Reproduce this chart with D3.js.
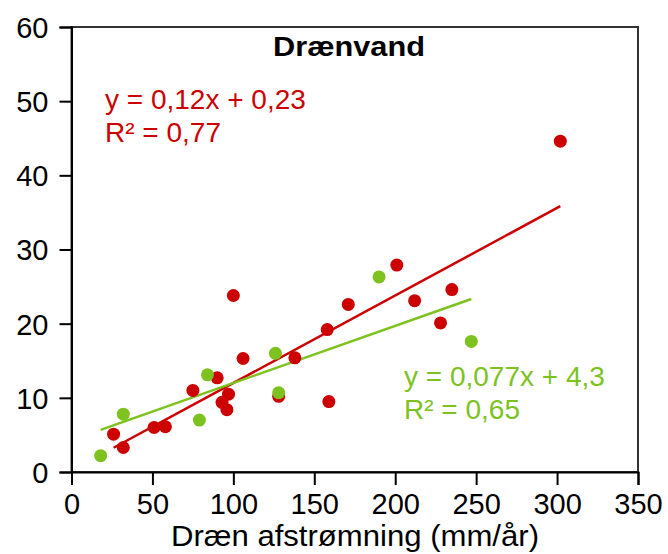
<!DOCTYPE html>
<html lang="da">
<head>
<meta charset="UTF-8">
<title>Drænvand</title>
<script src="https://d3js.org/d3.v7.min.js"></script>
<style>
  body { margin: 0; background: #fff; }
  svg { display: block; font-family: "Liberation Sans", Arial, sans-serif; }
  .tick text { font-size: 29px; fill: #000; }
</style>
</head>
<body>
<svg id="chart" width="668" height="554"></svg>
<script>
// red series (x = drain runoff mm/yr, y = value)
var redX = [26, 32, 51, 58, 75, 90, 93, 97, 96, 100, 106, 128, 138, 158, 159, 171, 201, 212, 228, 235, 302];
var redY = [5.1, 3.3, 6.0, 6.1, 11.0, 12.7, 9.4, 10.5, 8.4, 23.8, 15.3, 10.2, 15.4, 19.2, 9.5, 22.6, 27.9, 23.1, 20.1, 24.6, 44.6];
// green series
var greenX = [18, 32, 79, 84, 126, 128, 190, 247];
var greenY = [2.2, 7.8, 7.0, 13.1, 16.0, 10.7, 26.3, 17.6];

// trend lines: [slope, intercept]
var redTrend = [0.118, 0.2];
var greenTrend = [0.077, 4.3];

var redLabel = ["y = 0,12x + 0,23", "R² = 0,77"];
var greenLabel = ["y = 0,077x + 4,3", "R² = 0,65"];

var xTicks = [0, 50, 100, 150, 200, 250, 300, 350];
var yTicks = [0, 10, 20, 30, 40, 50, 60];

var red = "#cc0000", green = "#7dc21e";

var svg = d3.select("#chart");
var x = d3.scaleLinear().domain([0, 350]).range([71.5, 638]);
var y = d3.scaleLinear().domain([0, 60]).range([472, 27]);

// frame
svg.append("rect")
  .attr("x", x(0)).attr("y", y(60))
  .attr("width", x(350) - x(0)).attr("height", y(0) - y(60))
  .attr("fill", "none").attr("stroke", "#333").attr("stroke-width", 2);

var xAxis = svg.append("g")
  .attr("transform", "translate(0," + y(0) + ")")
  .call(d3.axisBottom(x).tickValues(xTicks).tickSize(13).tickPadding(8));
var yAxis = svg.append("g")
  .attr("transform", "translate(" + x(0) + ",0)")
  .call(d3.axisLeft(y).tickValues(yTicks).tickSize(12).tickPadding(11));
[xAxis, yAxis].forEach(function(a){
  a.select(".domain").attr("stroke", "#000").attr("stroke-width", 2);
  a.selectAll(".tick line").attr("stroke", "#000").attr("stroke-width", 2);
  a.selectAll(".tick text").attr("font-family", null).attr("font-size", null);
});
yAxis.selectAll(".tick text").attr("dy", "0.36em");

// trend lines
function trend(xs, coef, color) {
  var ext = d3.extent(xs);
  svg.append("line")
    .attr("x1", x(ext[0])).attr("y1", y(coef[0] * ext[0] + coef[1]))
    .attr("x2", x(ext[1])).attr("y2", y(coef[0] * ext[1] + coef[1]))
    .attr("stroke", color).attr("stroke-width", 2.5);
}
trend(redX, redTrend, red);
trend(greenX, greenTrend, green);

function dots(xs, ys, color) {
  svg.append("g").selectAll("circle").data(xs).enter().append("circle")
    .attr("cx", function(d){ return x(d); })
    .attr("cy", function(d, i){ return y(ys[i]); })
    .attr("r", 6.5)
    .attr("fill", color);
}
dots(redX, redY, red);
dots(greenX, greenY, green);

// labels
svg.append("text").attr("x", 349).attr("y", 56)
  .attr("text-anchor", "middle").attr("font-weight", "bold").attr("font-size", 27)
  .attr("textLength", 152).attr("lengthAdjust", "spacingAndGlyphs")
  .text("Drænvand");

function eq(lines, left, top, color) {
  lines.forEach(function(t, i){
    svg.append("text").attr("x", left).attr("y", top + i * 33)
      .attr("font-size", 28).attr("fill", color).text(t);
  });
}
eq(redLabel, 105, 109, red);
eq(greenLabel, 404, 386, green);

svg.append("text").attr("x", 355).attr("y", 546)
  .attr("text-anchor", "middle").attr("font-size", 29)
  .attr("textLength", 368).attr("lengthAdjust", "spacingAndGlyphs")
  .text("Dræn afstrømning (mm/år)");
</script>
</body>
</html>
